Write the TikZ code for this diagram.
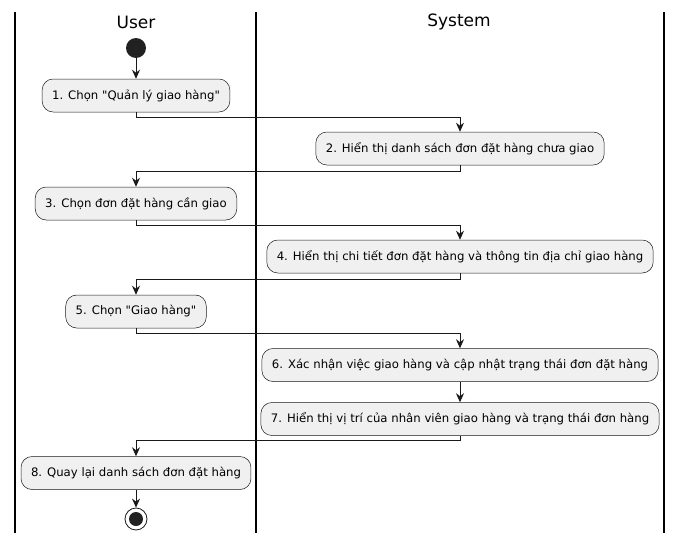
\documentclass[tikz,border=0pt]{standalone}
\usepackage{fontspec}
\setmainfont{DejaVu Sans}
\usetikzlibrary{arrows.meta}
\begin{document}
\begin{tikzpicture}[x=1pt,y=-1pt,
    act/.style={draw=black!90,fill=black!6,line width=0.5pt,rounded corners=11pt,minimum height=33pt,inner xsep=10pt,font=\fontsize{11.7}{14}\selectfont},
    flow/.style={-{Stealth[length=9pt,width=8pt,inset=3pt]},line width=0.8pt,black!90},
    lane/.style={line width=1.2pt},
    title/.style={font=\fontsize{17}{20}\selectfont}]
\useasboundingbox (0,0) rectangle (682,543);
\def\xu{136};\def\xs{460};\def\ytop{12};\def\ybot{533};
% lanes
\draw[lane] (15,\ytop) -- (15,\ybot);
\draw[lane] (256,\ytop) -- (256,\ybot);
\draw[lane] (664,\ytop) -- (664,\ybot);
\node[title] (user) at (\xu,22) {User};
\node[title] (system) at (459,22) {System};

% activities
\node[circle,fill=black!87,minimum size=20pt,inner sep=0pt] (start) at (\xu,48) {};
\node[act] (a1) at (\xu,95.5) {1. Chọn \textquotedbl Quản lý giao hàng\textquotedbl};
\node[act] (a2) at (\xs,148.5) {2. Hiển thị danh sách đơn đặt hàng chưa giao};
\node[act] (a3) at (\xu,203.5) {3. Chọn đơn đặt hàng cần giao};
\node[act] (a4) at (\xs,256.5) {4. Hiển thị chi tiết đơn đặt hàng và thông tin địa chỉ giao hàng};
\node[act] (a5) at (\xu,311.5) {5. Chọn \textquotedbl Giao hàng\textquotedbl};
\node[act] (a6) at (\xs,365) {6. Xác nhận việc giao hàng và cập nhật trạng thái đơn đặt hàng};
\node[act] (a7) at (\xs,419) {7. Hiển thị vị trí của nhân viên giao hàng và trạng thái đơn hàng};
\node[act] (a8) at (\xu,473) {8. Quay lại danh sách đơn đặt hàng};
\node[circle,draw=black!90,line width=0.8pt,fill=white,minimum size=22pt,inner sep=0pt] (stop) at (\xu,519) {};
\node[circle,fill=black!87,minimum size=14pt,inner sep=0pt] (stopdot) at (stop) {};

% flows
\draw[flow] (start) -- (a1);
\draw[flow] (a1.south) -- ++(0,5) -| (a2.north);
\draw[flow] (a2.south) -- ++(0,6) -| (a3.north);
\draw[flow] (a3.south) -- ++(0,5) -| (a4.north);
\draw[flow] (a4.south) -- ++(0,6) -| (a5.north);
\draw[flow] (a5.south) -- ++(0,5) -| (a6.north);
\draw[flow] (a6) -- (a7);
\draw[flow] (a7.south) -- ++(0,5) -| (a8.north);
\draw[flow] (a8) -- (stop);
\end{tikzpicture}
\end{document}
